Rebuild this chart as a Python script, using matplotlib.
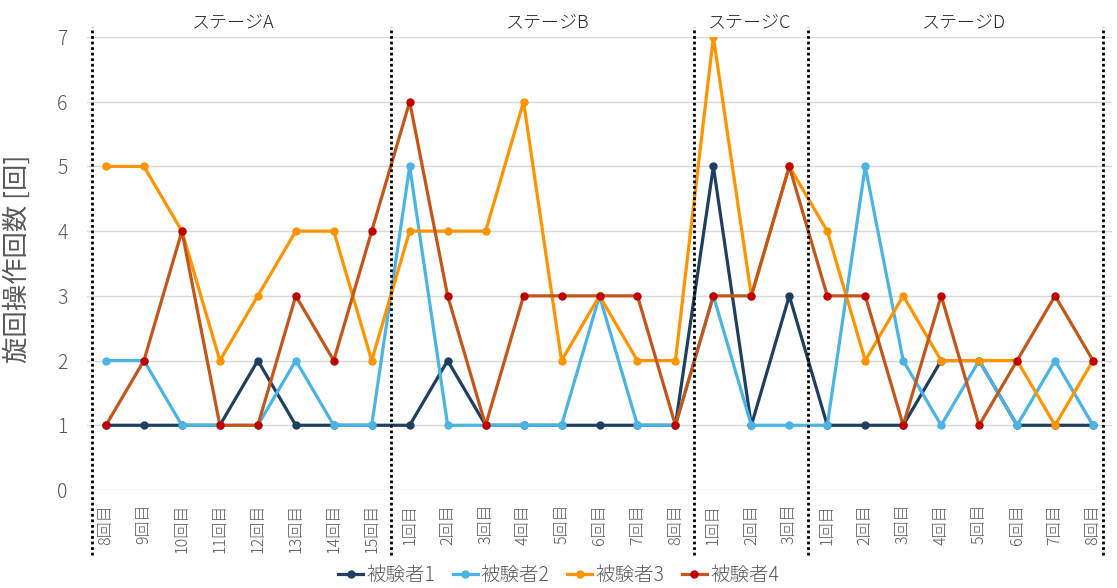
import matplotlib.pyplot as plt
import numpy as np

plt.rcParams['font.family'] = ['Noto Sans CJK JP', 'DejaVu Sans']
plt.rcParams['font.weight'] = 'light'

# 試行ラベル (ステージごと)
stage_a = ['8回目', '9回目', '10回目', '11回目', '12回目', '13回目', '14回目', '15回目']
stage_b = ['1回目', '2回目', '3回目', '4回目', '5回目', '6回目', '7回目', '8回目']
stage_c = ['1回目', '2回目', '3回目']
stage_d = ['1回目', '2回目', '3回目', '4回目', '5回目', '6回目', '7回目', '8回目']
trials = stage_a + stage_b + stage_c + stage_d
stage_names = ['ステージA', 'ステージB', 'ステージC', 'ステージD']

# 旋回操作回数
subject1 = [1, 1, 1, 1, 2, 1, 1, 1,
            1, 2, 1, 1, 1, 1, 1, 1,
            5, 1, 3,
            1, 1, 1, 2, 2, 1, 1, 1]
subject2 = [2, 2, 1, 1, 1, 2, 1, 1,
            5, 1, 1, 1, 1, 3, 1, 1,
            3, 1, 1,
            1, 5, 2, 1, 2, 1, 2, 1]
subject3 = [5, 5, 4, 2, 3, 4, 4, 2,
            4, 4, 4, 6, 2, 3, 2, 2,
            7, 3, 5,
            4, 2, 3, 2, 2, 2, 1, 2]
subject4 = [1, 2, 4, 1, 1, 3, 2, 4,
            6, 3, 1, 3, 3, 3, 3, 1,
            3, 3, 5,
            3, 3, 1, 3, 1, 2, 3, 2]

series = [
    ('被験者1', subject1, '#1F3F60', '#1F3F60'),
    ('被験者2', subject2, '#4AB4E4', '#4AB4E4'),
    ('被験者3', subject3, '#FF9300', '#FF9300'),
    ('被験者4', subject4, '#C4561A', '#C00000'),
]

fig = plt.figure(figsize=(11.17, 5.88), dpi=100)
ax = fig.add_axes([87 / 1117, 98 / 588, 1025 / 1117, 453 / 588])

x = np.arange(len(trials))
for name, vals, lc, mc in series:
    ax.plot(x, vals, color=lc, lw=2.3, marker='o', ms=5,
            mfc=mc, mec=mc, label=name, zorder=3)

ax.set_xlim(-0.5, len(trials) - 0.5)
ax.set_ylim(0, 7)
ax.set_yticks(range(8))
ax.grid(axis='y', color='#D9D9D9', lw=1)
ax.set_axisbelow(True)
for s in ax.spines.values():
    s.set_visible(False)

ax.set_xticks(x, trials, rotation=90, fontsize=11.5, color='#595959')
ax.tick_params(axis='x', length=0, pad=10)
ax.tick_params(axis='y', length=0, pad=14, labelsize=14, labelcolor='#595959')
ax.set_ylabel('旋回操作回数 [回]', fontsize=19, color='#595959')
ax.yaxis.set_label_coords(-0.055, 0.51)

# ステージ区切りの点線
bounds = [-0.37, 7.5, 15.5, 18.5, 26.26]
trans = ax.get_xaxis_transform()
for b in bounds:
    ax.plot([b, b], [-0.143, 1.022], transform=trans, color='black',
            lw=2, ls=(0, (1, 1)), clip_on=False, zorder=4)

label_pos = [3.35, 11.65, 16.95, 22.6]
for name, px in zip(stage_names, label_pos):
    ax.text(px, 1.033, name, transform=trans, ha='center', va='center',
            fontsize=13, color='#262626')

fig.legend(loc='center', bbox_to_anchor=(0.5, 0.022), ncol=4, frameon=False,
           fontsize=14, labelcolor='#595959', handlelength=1.3,
           handletextpad=0.15, columnspacing=0.9)

fig.savefig('out.png', dpi=100)
